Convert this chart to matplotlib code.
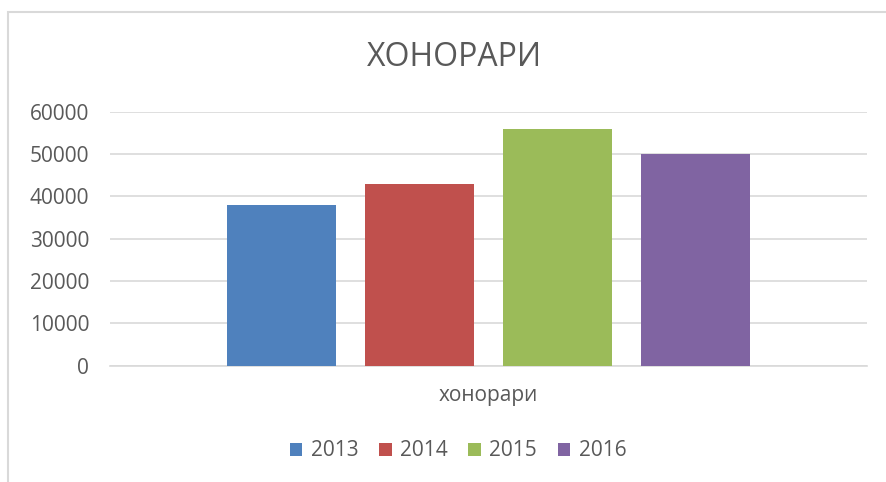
import matplotlib.pyplot as plt
from matplotlib.patches import Rectangle, Patch

plt.rcParams['font.family'] = ['Open Sans', 'DejaVu Sans']

# data
title = 'ХОНОРАРИ'
category = 'хонорари'
years = ['2013', '2014', '2015', '2016']
values = [38000, 43000, 56000, 50000]
colors = ['#4F81BD', '#C0504D', '#9BBB59', '#8064A2']
yticks = [0, 10000, 20000, 30000, 40000, 50000, 60000]

fig = plt.figure(figsize=(8.87, 4.82), dpi=100)
fig.patch.set_facecolor('white')

# chart area border (cropped on the right / bottom)
fig.patches.append(Rectangle((8 / 887, -0.1), 1.2, 1 - 12 / 482 + 0.1,
                             transform=fig.transFigure, fill=False,
                             edgecolor='#D9D9D9', linewidth=1.5))

ax = fig.add_axes([110 / 887, 1 - 365.7 / 482, 757 / 887, 254 / 482])

step = 0.1823
width = 0.144
for i, (yr, v, c) in enumerate(zip(years, values, colors)):
    ax.bar((i - 1.5) * step, v, width=width, color=c, zorder=3, label=yr)

ax.set_xlim(-0.5, 0.5)
ax.set_ylim(0, 60000)
ax.set_yticks(yticks)
ax.set_yticklabels([str(t) for t in yticks], fontsize=15, color='#595959')
ax.set_xticks([0])
ax.set_xticklabels([category], fontsize=15, color='#595959')
ax.tick_params(axis='both', length=0)
ax.tick_params(axis='y', pad=15)
ax.tick_params(axis='x', pad=14)

ax.yaxis.grid(True, color='#D9D9D9', linewidth=1.2, zorder=0)
for s in ['top', 'right', 'left']:
    ax.spines[s].set_visible(False)
ax.spines['bottom'].set_color('#D9D9D9')
ax.spines['bottom'].set_linewidth(1.2)

fig.text(454 / 887, 1 - 57 / 482, title, ha='center', va='center',
         fontsize=23, color='#595959')

handles = [Patch(facecolor=c, label=yr) for yr, c in zip(years, colors)]
fig.legend(handles=handles, loc='center', ncol=4,
           bbox_to_anchor=(458 / 887, 1 - 451 / 482), frameon=False,
           fontsize=15, labelcolor='#595959', handlelength=0.6,
           handleheight=0.6, handletextpad=0.4, columnspacing=1.0)

fig.savefig('out.png', dpi=100, facecolor='white')
